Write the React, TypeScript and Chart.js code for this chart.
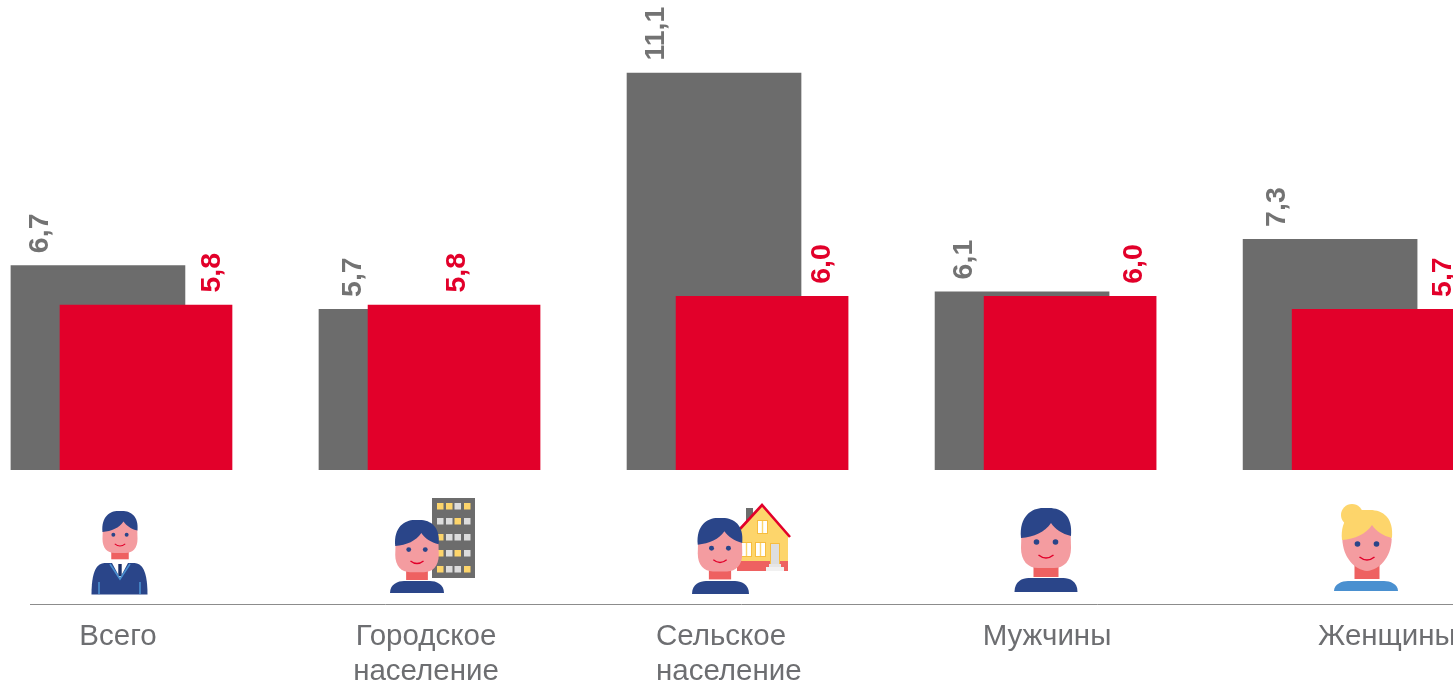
import React, { useEffect, useRef } from "react";
import { Chart, registerables } from "chart.js";

Chart.register(...registerables);

const categories: string[][] = [
  ["Всего"],
  ["Городское", "население"],
  ["Сельское", "население"],
  ["Мужчины"],
  ["Женщины"],
];
const grayValues = [6.7, 5.7, 11.1, 6.1, 7.3];
const redValues = [5.8, 5.8, 6.0, 6.0, 5.7];

const GRAY = "#6c6c6c";
const RED = "#e2002a";
const TEXT = "#6d6e71";
const NAVY = "#2a4589";
const SKIN = "#f49ca0";
const NECK = "#ee6161";
const YELLOW = "#fdd56b";
const FONT = '"Liberation Sans", Arial, sans-serif';
const BAR_SHIFT = 0.078;

const grayLabelShift = [-58, -53, -58, -58, -53];
const redLabelShift = [66, 3, 60, 64, 64];
const axisLabelAnchor: [number, CanvasTextAlign][] = [
  [118, "center"],
  [426, "center"],
  [656, "left"],
  [1047, "center"],
  [1318, "left"],
];

type Ctx = CanvasRenderingContext2D;

function rect(c: Ctx, color: string, x0: number, y0: number, x1: number, y1: number) {
  c.fillStyle = color;
  c.fillRect(x0, y0, x1 - x0, y1 - y0);
}

function body(c: Ctx, cx: number, w: number, top: number, bottom: number, color: string) {
  const h = w / 2;
  c.fillStyle = color;
  c.beginPath();
  c.moveTo(cx - h, bottom);
  c.bezierCurveTo(cx - h, top + 3, cx - h + 8, top, cx - h + 14, top);
  c.lineTo(cx + h - 14, top);
  c.bezierCurveTo(cx + h - 8, top, cx + h, top + 3, cx + h, bottom);
  c.closePath();
  c.fill();
}

function head(c: Ctx, cx: number, top: number, s: number, female: boolean) {
  c.save();
  c.translate(cx, top);
  c.scale(s, s);
  // neck
  rect(c, NECK, -12.5, 52, 12.5, 69);
  // face
  c.fillStyle = SKIN;
  c.beginPath();
  c.moveTo(-17, 10);
  if (female) {
    c.lineTo(-24.7, 29);
    c.bezierCurveTo(-24, 48, -12, 60, 0, 61);
    c.bezierCurveTo(12, 60, 24, 48, 24.7, 29);
    c.lineTo(17, 10);
  } else {
    c.lineTo(-24.7, 29);
    c.lineTo(-25, 40);
    c.bezierCurveTo(-25, 53, -18, 60, -8, 60);
    c.lineTo(8, 60);
    c.bezierCurveTo(18, 60, 25, 53, 25, 40);
    c.lineTo(24.7, 27);
    c.lineTo(17, 10);
  }
  c.closePath();
  c.fill();
  // hair
  c.fillStyle = female ? YELLOW : NAVY;
  if (female) {
    c.beginPath();
    c.arc(-15, 5, 11, 0, Math.PI * 2);
    c.fill();
  }
  c.beginPath();
  c.moveTo(-25, 30);
  c.bezierCurveTo(-27, 8, -14, 0, -3, 0);
  c.lineTo(3, 0);
  c.bezierCurveTo(16, 0, 27, 8, 25, 28);
  c.bezierCurveTo(16, 26, 9, 21, 5, 15);
  c.bezierCurveTo(-1, 24, -12, 29, -25, 30);
  c.closePath();
  c.fill();
  // eyes
  c.fillStyle = NAVY;
  for (const ex of [-9.5, 9.5]) {
    c.beginPath();
    c.arc(ex, 34, 2.8, 0, Math.PI * 2);
    c.fill();
  }
  // smile
  c.strokeStyle = RED;
  c.lineWidth = 1.5;
  c.beginPath();
  c.moveTo(-7.5, 47);
  c.quadraticCurveTo(0, 53, 7.5, 47);
  c.stroke();
  c.restore();
}

function building(c: Ctx) {
  rect(c, GRAY, 432, 498, 475, 578);
  const cols = [437, 446, 454.5, 464];
  const rows = [503, 518, 534, 550, 566];
  const yellow = ["1101", "0010", "1000", "1010", "1001"];
  rows.forEach((y, r) =>
    cols.forEach((x, k) =>
      rect(c, yellow[r][k] === "1" ? YELLOW : "#dcdcdc", x, y, x + 6.5, y + 6.5)
    )
  );
}

function house(c: Ctx) {
  rect(c, GRAY, 746, 508, 753, 528);
  c.fillStyle = YELLOW;
  c.beginPath();
  c.moveTo(738, 531);
  c.lineTo(762, 505);
  c.lineTo(788, 535);
  c.lineTo(788, 562);
  c.lineTo(738, 562);
  c.closePath();
  c.fill();
  rect(c, NECK, 737, 561, 788, 571);
  c.strokeStyle = RED;
  c.lineWidth = 2.6;
  c.beginPath();
  c.moveTo(740, 529);
  c.lineTo(762, 505);
  c.lineTo(790, 537);
  c.stroke();
  const windows = [
    [758, 521, 767, 533],
    [742, 543, 751, 556],
    [756, 543, 765, 556],
  ];
  windows.forEach(([a, b, d, e]) => {
    rect(c, "#f7bd3f", a - 1, b - 1, d + 1, e + 1);
    rect(c, "#ffffff", a, b, d, e);
    rect(c, YELLOW, (a + d) / 2 - 0.7, b, (a + d) / 2 + 0.7, e);
  });
  rect(c, "#f7bd3f", 770, 543, 780, 564);
  rect(c, "#dedede", 771, 544, 779, 564);
  rect(c, "#e6e6e6", 769, 564, 781, 567);
  rect(c, "#f1f1f1", 766, 567, 784, 571);
}

function suit(c: Ctx) {
  body(c, 119.5, 56, 563, 594.5, NAVY);
  c.fillStyle = "#ffffff";
  c.beginPath();
  c.moveTo(112, 563);
  c.lineTo(128, 563);
  c.lineTo(120, 578);
  c.closePath();
  c.fill();
  rect(c, "#1c2f66", 118.3, 564, 121.7, 576);
  c.strokeStyle = "#4a90d0";
  c.lineWidth = 1.6;
  c.beginPath();
  c.moveTo(110, 564);
  c.lineTo(120, 579);
  c.lineTo(130, 564);
  c.moveTo(99, 582);
  c.lineTo(99, 594);
  c.moveTo(140, 582);
  c.lineTo(140, 594);
  c.stroke();
}

const decoration = {
  id: "decoration",
  afterDatasetsDraw(chart: any) {
    const c: Ctx = chart.ctx;
    const xs = chart.scales.x;
    c.save();

    // value labels
    c.font = `bold 28.5px ${FONT}`;
    c.textAlign = "left";
    c.textBaseline = "middle";
    chart.data.datasets.forEach((ds: any, d: number) => {
      const shifts = d === 0 ? grayLabelShift : redLabelShift;
      chart.getDatasetMeta(d).data.forEach((bar: any, i: number) => {
        const text = ds.data[i].y.toFixed(1).replace(".", ",");
        c.save();
        c.translate(bar.x + shifts[i] + 0.5, bar.y - 12.5);
        c.rotate(-Math.PI / 2);
        c.fillStyle = d === 0 ? "#737373" : RED;
        c.fillText(text, 0, 0);
        c.restore();
      });
    });

    // icons
    building(c);
    house(c);
    suit(c);
    body(c, 417, 54, 581, 593, NAVY);
    body(c, 720.5, 57, 581, 594, NAVY);
    body(c, 1046, 63, 578, 592, NAVY);
    body(c, 1366, 64, 581, 591, "#4a90d0");
    head(c, 120, 511, 0.7, false);
    head(c, 417, 520, 0.87, false);
    head(c, 720, 518, 0.89, false);
    head(c, 1046, 508, 1, false);
    head(c, 1367, 510, 1, true);

    // separator
    c.strokeStyle = "#8c8c8c";
    c.lineWidth = 1;
    c.beginPath();
    c.moveTo(30, 604.5);
    c.lineTo(xs.right, 604.5);
    c.stroke();

    // category labels
    c.font = `29.5px ${FONT}`;
    c.fillStyle = TEXT;
    c.textBaseline = "alphabetic";
    categories.forEach((lines, i) => {
      const [x, align] = axisLabelAnchor[i];
      c.textAlign = align;
      lines.forEach((line, k) => c.fillText(line, x, 645 + k * 35));
    });
    c.restore();
  },
};

export default function App() {
  const ref = useRef<HTMLCanvasElement>(null);
  useEffect(() => {
    const chart = new Chart(ref.current as HTMLCanvasElement, {
      type: "bar",
      data: {
        datasets: [
          {
            label: "A",
            order: 2,
            data: grayValues.map((y, i) => ({ x: i - BAR_SHIFT, y })),
            backgroundColor: GRAY,
            barThickness: 174,
          },
          {
            label: "B",
            order: 1,
            data: redValues.map((y, i) => ({ x: i + BAR_SHIFT, y })),
            backgroundColor: RED,
            barThickness: 172,
          },
        ],
      } as any,
      options: {
        responsive: false,
        animation: false,
        layout: { padding: { left: 0, right: 0, top: 0, bottom: 213 } },
        plugins: { legend: { display: false }, tooltip: { enabled: false } },
        datasets: { bar: { grouped: false } },
        scales: {
          x: { type: "linear", min: -0.396, max: 4.321, offset: false, display: false },
          y: { min: 2.03, max: 12.77, display: false },
        },
      } as any,
      plugins: [decoration],
    });
    return () => chart.destroy();
  }, []);
  return (
    <canvas
      ref={ref}
      width={1453}
      height={683}
      style={{ position: "absolute", left: 0, top: 0, width: 1453, height: 683 }}
    />
  );
}
